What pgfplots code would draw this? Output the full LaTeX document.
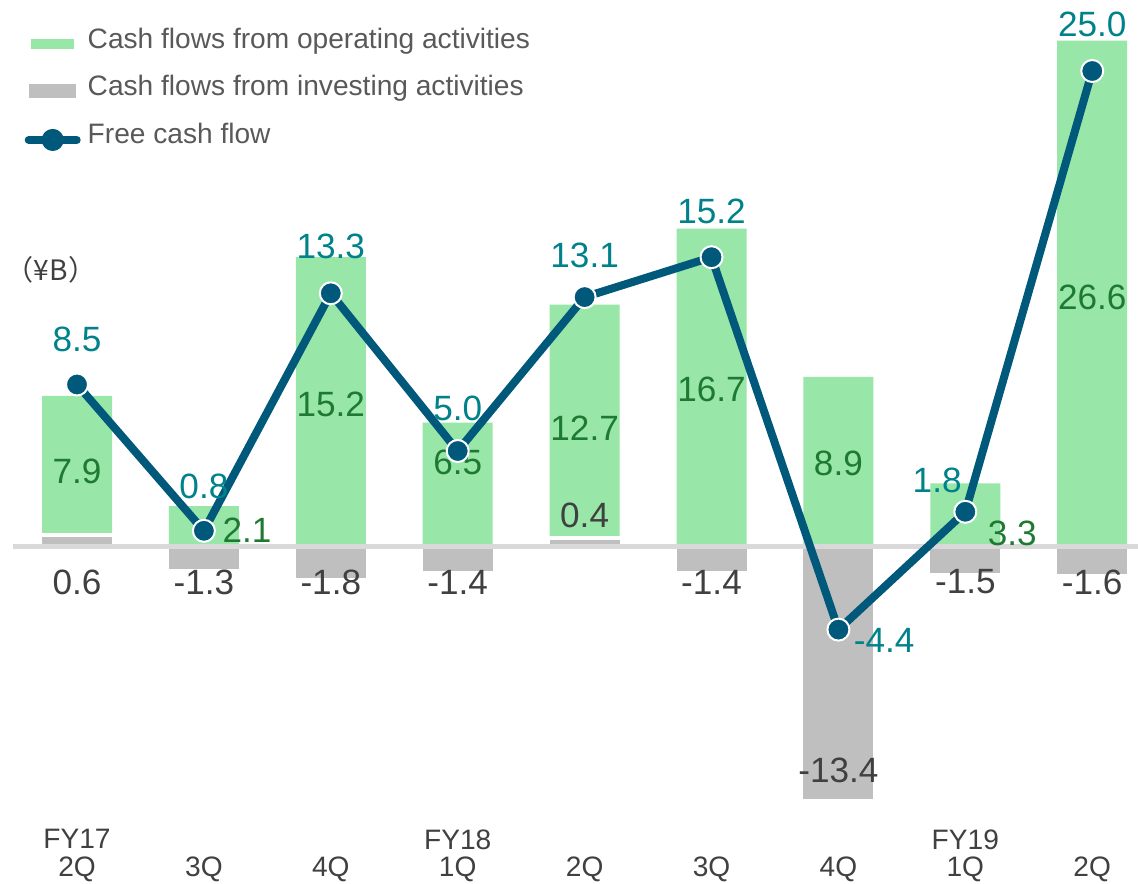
\documentclass[border=0pt]{standalone}
\usepackage{pgfplots}
\usepackage{pgfplotstable}
\pgfplotsset{compat=1.18}
\usepackage{fontspec}
\setmainfont{Liberation Sans}
\newfontfamily\cjk{Noto Sans CJK JP}
\definecolor{opGreen}{RGB}{152,230,168}
\definecolor{invGray}{RGB}{191,191,191}
\definecolor{fcfBlue}{RGB}{0,88,122}
\definecolor{fcfText}{RGB}{0,130,138}
\definecolor{opText}{RGB}{30,122,50}
\definecolor{darkText}{RGB}{64,64,64}
\definecolor{legText}{RGB}{89,89,89}
\definecolor{zeroGray}{RGB}{217,217,217}

\pgfplotstableread{
x op inv fcf
0 7.9 0.6 8.5
1 2.1 -1.3 0.8
2 15.2 -1.8 13.3
3 6.5 -1.4 5.0
4 12.7 0.4 13.1
5 16.7 -1.4 15.2
6 8.9 -13.4 -4.4
7 3.3 -1.5 1.8
8 26.6 -1.6 25.0
}\data

\pgfplotstableread{
x y l
0 10.89 8.5
1.0 3.16 0.8
2 15.79 13.3
3 7.26 5.0
4 15.32 13.1
5 17.63 15.2
6.36 -4.95 -4.4
6.778 3.47 1.8
8 27.47 25.0
}\fcflab

\pgfplotstableread{
x y l
0 3.95 7.9
1.34 0.84 2.1
2 7.47 15.2
3 4.42 6.5
4 6.21 12.7
5 8.26 16.7
6 4.37 8.9
7.37 0.68 3.3
8 13.1 26.6
}\oplab

\pgfplotstableread{
x y l
0 -1.89 0.6
1 -1.89 -1.3
2 -1.89 -1.8
3 -1.89 -1.4
4 1.63 0.4
5 -1.89 -1.4
6 -11.79 -13.4
7 -1.89 -1.5
8 -1.89 -1.6
}\invlab

\pgfplotsset{
  barlegG/.style={legend image code/.code={\fill[opGreen] (0.06cm,-0.08cm) rectangle (0.49cm,0.02cm);}},
  barlegI/.style={legend image code/.code={\fill[invGray] (0.06cm,-0.08cm) rectangle (0.49cm,0.02cm);}},
  fcfleg/.style={legend image code/.code={\draw[fcfBlue, line width=0.08cm, line cap=round] (0.04cm,-0.04cm) -- (0.52cm,-0.04cm);
     \fill[fcfBlue] (0.28cm,-0.04cm) circle (0.07cm);}},
}

\begin{document}
\begin{tikzpicture}
\begin{axis}[
  scale only axis, width=11.38cm, height=8.15cm,
  xmin=-0.6068, xmax=8.3609, ymin=-14.158, ymax=28.737,
  clip=false,
  axis line style={draw=none},
  ytick=\empty,
  xtick={0,...,8},
  xticklabels={{FY17\\2Q},{\vphantom{FY17}\\3Q},{\vphantom{FY17}\\4Q},{FY18\\1Q},{\vphantom{FY17}\\2Q},{\vphantom{FY17}\\3Q},{\vphantom{FY17}\\4Q},{FY19\\1Q},{\vphantom{FY17}\\2Q}},
  major tick length=0pt,
  xticklabel style={align=center, font=\fontsize{8}{7.8}\selectfont, text=darkText, yshift=-0.02cm},
  legend cell align=left,
  legend style={at={(0,1)}, anchor=north west, xshift=0.24cm, yshift=-0.20cm,
    draw=none, fill=none, inner sep=0pt, row sep=0.08cm,
    font=\fontsize{8}{9.6}\selectfont\color{legText}},
]
\addplot[ybar, bar width=0.7cm, bar shift=0pt, fill=opGreen, draw=none, barlegG]
  table[x=x,y=op] {\data};
\addlegendentry{Cash flows from operating activities}
\addplot[ybar, bar width=0.74cm, bar shift=0pt, fill=invGray, draw=white, line width=0.04cm, barlegI]
  table[x=x,y=inv] {\data};
\addlegendentry{Cash flows from investing activities}
\addplot[forget plot, zeroGray, line width=0.05cm] coordinates {(-0.504,0) (8.3609,0)};
\addplot[forget plot, draw=none, nodes near coords, point meta=explicit symbolic,
  nodes near coords align={center},
  every node near coord/.append style={anchor=center, font=\fontsize{10}{12}\selectfont, text=opText, inner sep=0pt}]
  table[x=x,y=y,meta=l] {\oplab};
\addplot[forget plot, draw=none, nodes near coords, point meta=explicit symbolic,
  nodes near coords align={center},
  every node near coord/.append style={anchor=center, font=\fontsize{10}{12}\selectfont, text=darkText, inner sep=0pt}]
  table[x=x,y=y,meta=l] {\invlab};
\addplot[forget plot, draw=none, nodes near coords, point meta=explicit symbolic,
  nodes near coords align={center},
  every node near coord/.append style={anchor=center, font=\fontsize{10}{12}\selectfont, text=fcfText, inner sep=0pt}]
  table[x=x,y=y,meta=l] {\fcflab};
\addplot[fcfBlue, line width=0.08cm, line join=round, mark=*, mark size=0.11cm,
  mark options={draw=white, fill=fcfBlue, line width=0.02cm}, fcfleg]
  table[x=x,y=fcf] {\data};
\addlegendentry{Free cash flow}
\node[font=\cjk\fontsize{8}{9}\selectfont, text=darkText] at (rel axis cs:0.0448,0.6687) {（¥B）};
\end{axis}
\pgfresetboundingbox
\path (0,-0.68cm) rectangle (11.38cm,8.15cm);
\end{tikzpicture}
\end{document}
